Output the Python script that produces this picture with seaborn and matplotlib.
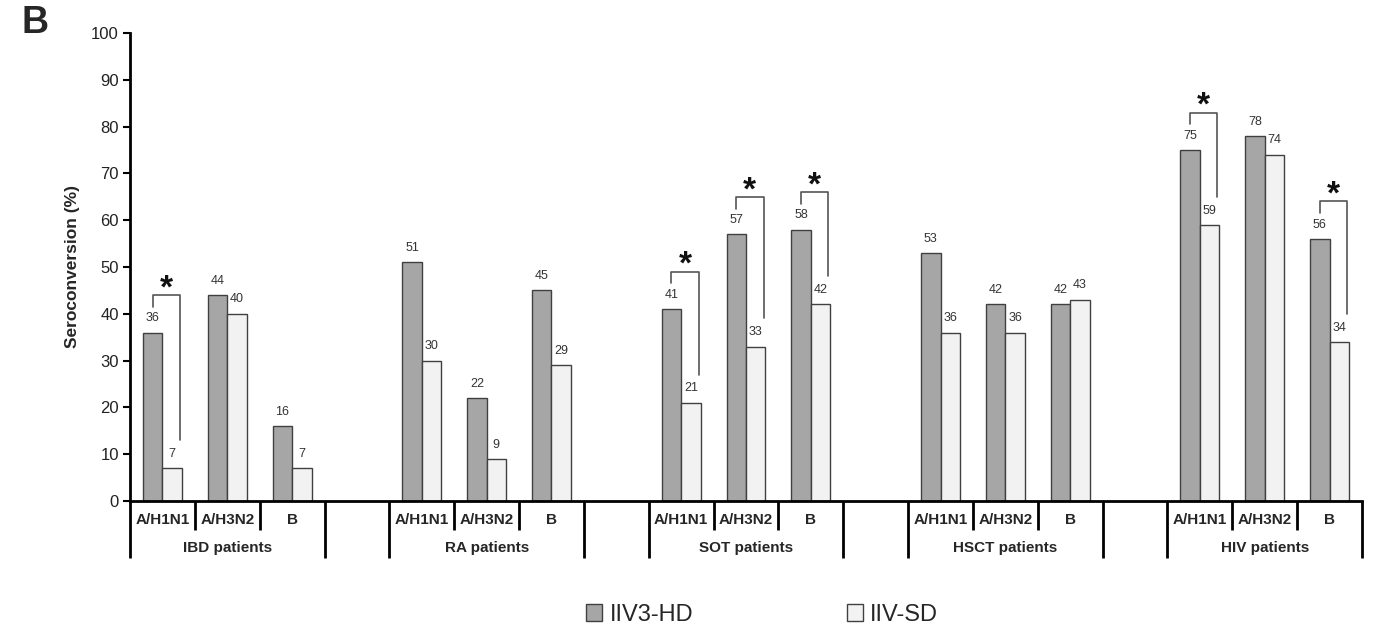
import matplotlib.pyplot as plt
import matplotlib.transforms as mtransforms
import pandas as pd
import seaborn as sns

groups = ["IBD patients", "RA patients", "SOT patients", "HSCT patients", "HIV patients"]
strains = ["A/H1N1", "A/H3N2", "B"]
vaccines = ["IIV3-HD", "IIV-SD"]

hd_values = [36, 44, 16, 51, 22, 45, 41, 57, 58, 53, 42, 42, 75, 78, 56]
sd_values = [7, 40, 7, 30, 9, 29, 21, 33, 42, 36, 36, 43, 59, 74, 34]

# (group, strain) pairs marked as significant
significant = [
    ("IBD patients", "A/H1N1"),
    ("SOT patients", "A/H1N1"),
    ("SOT patients", "A/H3N2"),
    ("SOT patients", "B"),
    ("HIV patients", "A/H1N1"),
    ("HIV patients", "B"),
]

colors = {"IIV3-HD": "#a6a6a6", "IIV-SD": "#f2f2f2"}


def main():
    rows = []
    for gi, g in enumerate(groups):
        for si, s in enumerate(strains):
            k = gi * 3 + si
            pos = gi * 4 + si  # one empty slot between groups
            rows.append({"group": g, "strain": s, "pos": pos, "vaccine": vaccines[0], "value": hd_values[k]})
            rows.append({"group": g, "strain": s, "pos": pos, "vaccine": vaccines[1], "value": sd_values[k]})
    df = pd.DataFrame(rows)

    sns.set_style("white")
    plt.rcParams["font.family"] = ["Liberation Sans", "DejaVu Sans"]

    fig = plt.figure(figsize=(13.73, 6.26), dpi=100)
    W, H = 1373, 626
    ax = fig.add_axes([130 / W, 1 - 501 / H, (1362 - 130) / W, (501 - 33) / H])

    sns.barplot(data=df, x="pos", y="value", hue="vaccine", hue_order=vaccines,
                palette=colors, native_scale=True, width=0.6, dodge=True,
                edgecolor="#404040", linewidth=1.0, ax=ax)

    for cont in ax.containers:
        ax.bar_label(cont, padding=6, fontsize=9, color="#333333")

    n_slots = len(groups) * 4 - 1
    ax.set_xlim(-0.5, n_slots - 0.5)
    ax.set_ylim(0, 100)
    ax.set_yticks(range(0, 101, 10))
    ax.tick_params(axis="y", direction="out", length=5, width=1.5, labelsize=12,
                   colors="black", labelcolor="#222222", left=True, pad=3)
    ax.tick_params(axis="x", bottom=False, labelbottom=False)
    ax.set_xlabel("")
    ax.set_ylabel("Seroconversion (%)", fontsize=12.5, fontweight="bold", labelpad=8)
    for side in ["top", "right"]:
        ax.spines[side].set_visible(False)
    for side in ["left", "bottom"]:
        ax.spines[side].set_linewidth(2)
        ax.spines[side].set_color("black")

    # category axis below the bars
    trans = mtransforms.blended_transform_factory(ax.transData, ax.transAxes)
    ah = (501 - 33)
    short_y = -29 / ah
    long_y = -57 / ah
    for gi, g in enumerate(groups):
        start = gi * 4
        for b in range(4):
            x = start - 0.5 + b
            y_end = long_y if b in (0, 3) else short_y
            ax.plot([x, x], [0, y_end], transform=trans, color="black", lw=2,
                    clip_on=False, solid_capstyle="butt")
        for si, s in enumerate(strains):
            ax.text(start + si, -19 / ah, s, transform=trans, ha="center", va="center",
                    fontsize=11, fontweight="bold")
        ax.text(start + 1, -47 / ah, g, transform=trans, ha="center", va="center",
                fontsize=11, fontweight="bold")

    # significance brackets
    for g, s in significant:
        gi, si = groups.index(g), strains.index(s)
        k = gi * 3 + si
        pos = gi * 4 + si
        hd, sd = hd_values[k], sd_values[k]
        xl = pos - 0.15
        xr = pos + 0.27
        top = max(hd, sd) + 8
        ax.plot([xl, xl, xr, xr], [hd + 5.5, top, top, sd + 6], color="#555555",
                lw=1.2, clip_on=False)
        ax.text((xl + xr) / 2, top - 2.0, "*", ha="center", va="bottom",
                fontsize=24, fontweight="bold", color="#111111")

    sns.move_legend(ax, "center", bbox_to_anchor=((762 - 130) / (1362 - 130), -114 / ah),
                    ncol=2, frameon=False, title=None, fontsize=17,
                    handlelength=0.7, handleheight=0.7, handletextpad=0.3,
                    columnspacing=6.5)

    fig.text(35 / W, 1 - 23 / H, "B", ha="center", va="center", fontsize=27,
             fontweight="bold")

    fig.savefig("out.png", dpi=100)
    plt.close(fig)


if __name__ == "__main__":
    main()
